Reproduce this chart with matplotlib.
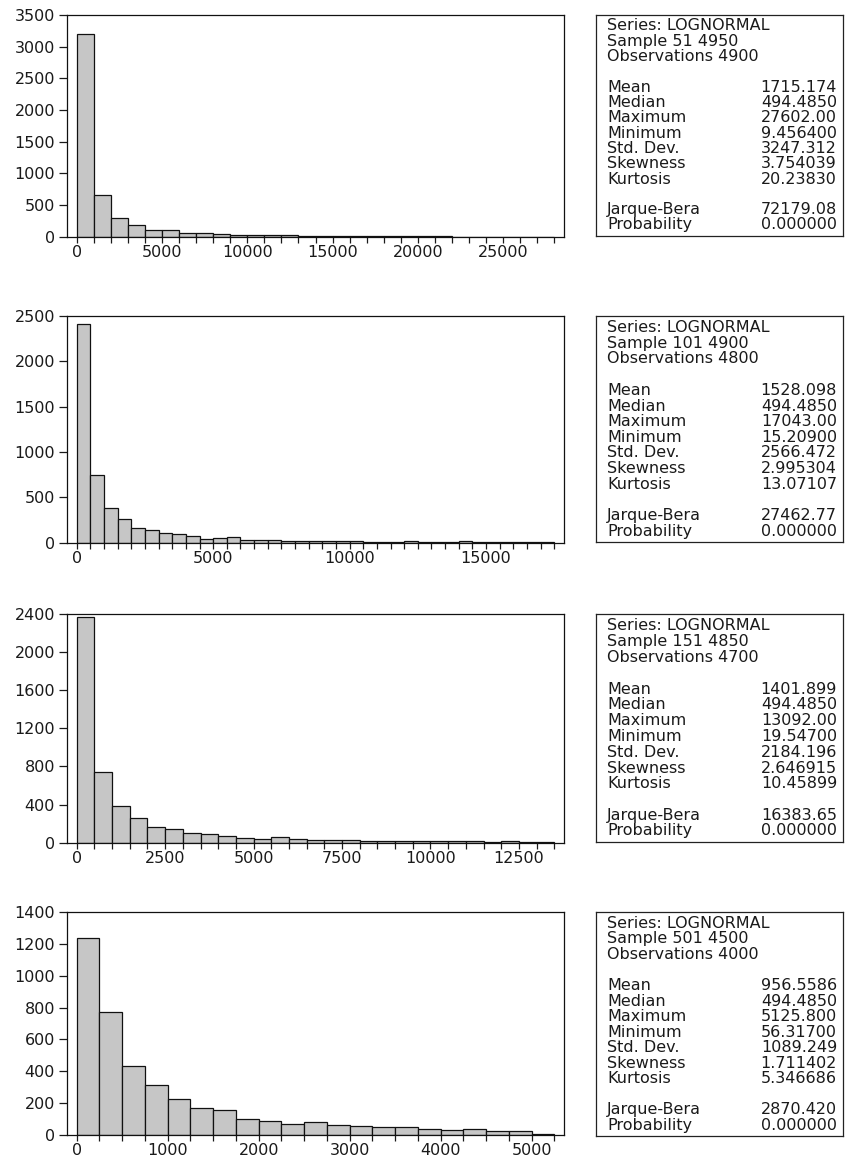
import numpy as np
import matplotlib
matplotlib.use("Agg")
import matplotlib.pyplot as plt
from matplotlib.ticker import MultipleLocator

plt.rcParams['font.family'] = ['DejaVu Sans']

# histogram counts (bin widths and tick steps per panel)
counts_1 = [3205, 652, 294, 184, 110, 110, 63, 53, 42, 32, 32, 20, 20, 14,
            18, 18, 12, 12, 5, 12, 12, 4, 3, 3, 2, 2, 2, 1]
counts_2 = [2408, 743, 388, 257, 161, 139, 102, 91, 70, 44, 48, 59, 33, 28,
            33, 22, 22, 22, 15, 15, 20, 12, 12, 12, 20, 8, 8, 5, 14, 8, 8, 8,
            8, 5, 4]
counts_3 = [2365, 745, 388, 255, 161, 140, 105, 91, 66, 45, 42, 59, 38, 25,
            33, 25, 21, 21, 17, 14, 21, 14, 14, 7, 21, 10, 4]
counts_4 = [1239, 771, 432, 312, 223, 167, 157, 101, 91, 72, 79, 64, 58, 48,
            52, 39, 33, 37, 23, 23, 8]
bin_widths = [1000, 500, 500, 250]
x_label_steps = [5000, 5000, 2500, 1000]
y_maxes = [3500, 2500, 2400, 1400]
y_steps = [500, 500, 400, 200]

# descriptive statistics boxes
stat_names = ['Mean', 'Median', 'Maximum', 'Minimum', 'Std. Dev.',
              'Skewness', 'Kurtosis']
samples = ['Sample 51 4950', 'Sample 101 4900', 'Sample 151 4850',
           'Sample 501 4500']
observations = ['Observations 4900', 'Observations 4800',
                'Observations 4700', 'Observations 4000']
stats_1 = ['1715.174', '494.4850', '27602.00', '9.456400', '3247.312',
           '3.754039', '20.23830']
stats_2 = ['1528.098', '494.4850', '17043.00', '15.20900', '2566.472',
           '2.995304', '13.07107']
stats_3 = ['1401.899', '494.4850', '13092.00', '19.54700', '2184.196',
           '2.646915', '10.45899']
stats_4 = ['956.5586', '494.4850', '5125.800', '56.31700', '1089.249',
           '1.711402', '5.346686']
jarque_bera = ['72179.08', '27462.77', '16383.65', '2870.420']
probability = ['0.000000', '0.000000', '0.000000', '0.000000']

all_counts = [counts_1, counts_2, counts_3, counts_4]
all_stats = [stats_1, stats_2, stats_3, stats_4]

W, H = 847, 1161
fig = plt.figure(figsize=(W / 100, H / 100), dpi=100)


def px_rect(left, top, right, bottom):
    return [left / W, 1 - bottom / H, (right - left) / W, (bottom - top) / H]


panel_tops = [(15, 236.7), (316, 542.7), (614, 842.7), (912, 1135)]
box_tops = [(15, 235.5), (316, 542), (614, 842), (912, 1136)]
txt_color = '#1a1a1a'
fs = 11.5

# baselines of the box lines, in px below the box top (for a 220.5 px box)
line_offsets = [15.5, 31, 46, 77, 92.3, 107.5, 122.8, 138, 153.3, 168.6,
                199, 214.2]

for i in range(4):
    counts = all_counts[i]
    w = bin_widths[i]
    n = len(counts)
    edges = np.arange(n) * w
    xmax = n * w
    pad = 0.021 * xmax

    t, b = panel_tops[i]
    ax = fig.add_axes(px_rect(66.7, t, 564.3, b))
    ax.bar(edges, counts, width=w, align='edge', color='#c6c6c6',
           edgecolor='#111111', linewidth=0.9)
    ax.set_xlim(-pad, xmax + pad)
    ax.set_ylim(0, y_maxes[i])
    ax.yaxis.set_major_locator(MultipleLocator(y_steps[i]))
    ax.xaxis.set_major_locator(MultipleLocator(x_label_steps[i]))
    ax.xaxis.set_minor_locator(MultipleLocator(w))
    ax.tick_params(axis='y', direction='out', length=6, width=0.9,
                   pad=2.5, labelsize=fs, colors=txt_color, right=False)
    ax.tick_params(axis='x', which='both', direction='out', length=4.5,
                   width=0.9, pad=1.5, labelsize=fs, colors=txt_color,
                   top=False)
    ax.set_xticks([v for v in ax.get_xticks() if 0 <= v <= xmax])
    for s in ax.spines.values():
        s.set_linewidth(0.9)
        s.set_color('#111111')

    # statistics box
    bt, bb = box_tops[i]
    bx = fig.add_axes(px_rect(596, bt, 843, bb))
    bx.set_xticks([])
    bx.set_yticks([])
    for s in bx.spines.values():
        s.set_linewidth(0.9)
        s.set_color('#222222')
    ys = [1 - o / 220.5 for o in line_offsets]
    lx = 11 / 247
    rx = 1 - 6 / 247
    kw = dict(transform=bx.transAxes, fontsize=fs, color=txt_color,
              va='baseline')
    bx.text(lx, ys[0], 'Series: LOGNORMAL', ha='left', **kw)
    bx.text(lx, ys[1], samples[i], ha='left', **kw)
    bx.text(lx, ys[2], observations[i], ha='left', **kw)
    for k, name in enumerate(stat_names):
        bx.text(lx, ys[3 + k], name, ha='left', **kw)
        bx.text(rx, ys[3 + k], all_stats[i][k], ha='right', **kw)
    bx.text(lx, ys[10], 'Jarque-Bera', ha='left', **kw)
    bx.text(rx, ys[10], jarque_bera[i], ha='right', **kw)
    bx.text(lx, ys[11], 'Probability', ha='left', **kw)
    bx.text(rx, ys[11], probability[i], ha='right', **kw)

fig.savefig('out.png', dpi=100, facecolor='white')
